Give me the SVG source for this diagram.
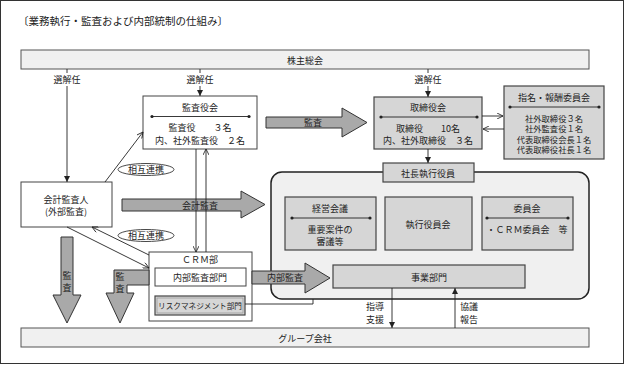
<svg xmlns="http://www.w3.org/2000/svg" width="625" height="365" viewBox="0 0 625 365">
<style>
text{font-family:"Noto Sans CJK JP","Noto Sans",sans-serif;font-size:9px;fill:#222;text-anchor:middle;dominant-baseline:central}
.t{font-size:10.5px;text-anchor:start}
.s{font-size:8.3px}
.box{fill:#fff;stroke:#444;stroke-width:1}
.gbox{fill:#d6d6d6;stroke:#444;stroke-width:1.2}
.bar{fill:#f0f0f0;stroke:#555;stroke-width:1}
.big{fill:#a9a9a9;stroke:#333;stroke-width:1}
.ln{fill:none;stroke:#222;stroke-width:0.9}
.dl{stroke:#222;stroke-width:0.9}
.dot{fill:#222}
.ell{fill:#fff;stroke:#333;stroke-width:0.9}
</style>
<defs>
<marker id="tri" viewBox="0 0 10 10" refX="10" refY="5" markerWidth="6" markerHeight="7" orient="auto" markerUnits="userSpaceOnUse"><path d="M0,0 L10,5 L0,10 Z" fill="#222"/></marker>
<marker id="chev" viewBox="0 0 10 10" refX="10" refY="5" markerWidth="7" markerHeight="6" orient="auto" markerUnits="userSpaceOnUse"><path d="M0,0 L10,5 L0,10" fill="none" stroke="#222" stroke-width="1.4"/></marker>
</defs>
<rect x="0.5" y="0.5" width="623" height="363" fill="#fff" stroke="#333" stroke-width="1"/>
<text class="t" x="18" y="20">〔業務執行・監査および内部統制の仕組み〕</text>

<g id="kabunushi"><rect class="bar" x="21" y="50" width="568" height="19"/><text x="305" y="60">株主総会</text></g>
<g id="group"><rect class="bar" x="21" y="328" width="568" height="19"/><text x="305" y="338">グループ会社</text></g>

<g id="container"><rect x="271" y="172" width="318" height="127" rx="11" fill="#f0f0f0" stroke="#222" stroke-width="1.5"/></g>

<g id="kansayakukai"><rect class="box" x="143" y="96" width="114" height="53"/><text x="200" y="107">監査役会</text>
<line class="dl" x1="152" y1="116.5" x2="249" y2="116.5"/><circle class="dot" cx="152" cy="116.5" r="1.6"/><circle class="dot" cx="249" cy="116.5" r="1.6"/>
<text x="200" y="127">監査役　　３名</text><text x="200" y="140">内、社外監査役　２名</text></g>

<g id="torishimariyakukai"><rect class="gbox" x="374" y="97" width="108" height="52"/><text x="428" y="107">取締役会</text>
<line class="dl" x1="381" y1="117" x2="477" y2="117"/><circle class="dot" cx="381" cy="117" r="1.6"/><circle class="dot" cx="477" cy="117" r="1.6"/>
<text x="428" y="128">取締役　　10名</text><text x="428" y="140">内、社外取締役　３名</text></g>

<g id="shimei"><rect class="gbox" x="504" y="86" width="100" height="73"/><text x="554" y="97">指名・報酬委員会</text>
<line class="dl" x1="510" y1="107" x2="599" y2="107"/><circle class="dot" cx="510" cy="107" r="1.6"/><circle class="dot" cx="599" cy="107" r="1.6"/>
<text class="s" x="554" y="117.5">社外取締役３名</text><text class="s" x="554" y="128">社外監査役１名</text><text class="s" x="554" y="138.5">代表取締役会長１名</text><text class="s" x="554" y="149">代表取締役社長１名</text></g>

<g id="shacho"><rect class="gbox" x="383" y="163" width="91" height="19"/><text x="428" y="173">社長執行役員</text></g>

<g id="keiei"><rect class="gbox" x="285" y="197" width="91" height="53"/><text x="330" y="208">経営会議</text>
<line class="dl" x1="292" y1="218" x2="370" y2="218"/><circle class="dot" cx="292" cy="218" r="1.6"/><circle class="dot" cx="370" cy="218" r="1.6"/>
<text x="330" y="229">重要案件の</text><text x="330" y="241">審議等</text></g>
<g id="shikko"><rect class="gbox" x="385" y="197" width="87" height="53"/><text x="428" y="224">執行役員会</text></g>
<g id="iinkai"><rect class="gbox" x="482" y="197" width="91" height="53"/><text x="527" y="208">委員会</text>
<line class="dl" x1="487" y1="218" x2="568" y2="218"/><circle class="dot" cx="487" cy="218" r="1.6"/><circle class="dot" cx="568" cy="218" r="1.6"/>
<text x="527" y="229">・ＣＲＭ委員会　等</text></g>
<g id="jigyo"><rect class="gbox" x="333" y="265" width="192" height="23"/><text x="429" y="277">事業部門</text></g>

<g id="kaikei"><rect class="box" x="21" y="182" width="91" height="45"/><text x="66" y="199">会計監査人</text><text x="66" y="211">(外部監査)</text></g>

<g id="crm"><rect class="box" x="149" y="252" width="103" height="69"/><text x="200" y="259.5">ＣＲＭ部</text>
<rect class="box" x="155" y="268" width="91" height="18"/><text x="200" y="277">内部監査部門</text>
<rect x="155" y="296" width="90" height="19" fill="#d6d6d6" stroke="#444" stroke-width="1.2"/><rect x="157" y="298" width="86" height="15" fill="none" stroke="#888" stroke-width="0.6"/><text x="200" y="305.5" style="font-size:7.8px" textLength="84" lengthAdjust="spacingAndGlyphs">リスクマネジメント部門</text></g>

<g id="connectors">
<polygon class="big" points="266,117 342,117 342,108 367,122.5 342,137 342,128 266,128"/>
<text x="313" y="122.5">監査</text>
<polygon class="big" points="122,199 241,199 241,191 265,204.5 241,218 241,211 122,211"/>
<text x="200" y="205">会計監査</text>
<polygon class="big" points="252,271 305,271 305,263 330,278 305,293 305,284 252,284"/>
<text x="285" y="277">内部監査</text>
<polygon class="big" points="61,237 73,237 73,295 81,295 67,323 53,295 61,295"/>
<text x="67" y="275">監</text><text x="67" y="287">査</text>
<polygon class="big" points="149,270 149,285 127,285 127,293 134,293 120,323 106,293 114,293 114,270"/>
<text x="120" y="276">監</text><text x="120" y="288">査</text>

<line class="ln" x1="67" y1="69" x2="67" y2="73"/><text x="67" y="79.5">選解任</text>
<line class="ln" x1="67" y1="86" x2="67" y2="182" marker-end="url(#tri)"/>
<line class="ln" x1="200" y1="69" x2="200" y2="73"/><text x="200" y="79.5">選解任</text>
<line class="ln" x1="200" y1="86" x2="200" y2="96" marker-end="url(#tri)"/>
<line class="ln" x1="428" y1="69" x2="428" y2="73"/><text x="428" y="79.5">選解任</text>
<line class="ln" x1="428" y1="86" x2="428" y2="97" marker-end="url(#tri)"/>
<line class="ln" x1="428" y1="149" x2="428" y2="163" marker-end="url(#tri)"/>

<line class="ln" x1="482" y1="116" x2="503" y2="116" marker-end="url(#chev)"/>
<line class="ln" x1="504" y1="129" x2="483" y2="129" marker-end="url(#chev)"/>

<line class="ln" x1="105" y1="182" x2="143" y2="132" marker-end="url(#chev)"/>
<line class="ln" x1="67" y1="227" x2="149" y2="268" marker-end="url(#chev)"/>
<line class="ln" x1="149" y1="255" x2="92" y2="227" marker-end="url(#chev)"/>
<ellipse class="ell" cx="146" cy="169.5" rx="28" ry="6"/><text x="146" y="169.5">相互連携</text>
<ellipse class="ell" cx="146" cy="235.5" rx="28" ry="6"/><text x="146" y="235.5">相互連携</text>

<line class="ln" x1="196" y1="149" x2="196" y2="252" marker-end="url(#chev)"/>
<line class="ln" x1="206" y1="252" x2="206" y2="149" marker-end="url(#chev)"/>

<polyline class="ln" points="245,304 313,304 313,299"/>

<line class="ln" x1="392" y1="288" x2="392" y2="328" marker-end="url(#tri)"/>
<text x="375" y="306">指導</text><text x="375" y="319">支援</text>
<line class="ln" x1="455" y1="328" x2="455" y2="288" marker-end="url(#tri)"/>
<text x="469" y="306">協議</text><text x="469" y="319">報告</text>
</g>
</svg>
